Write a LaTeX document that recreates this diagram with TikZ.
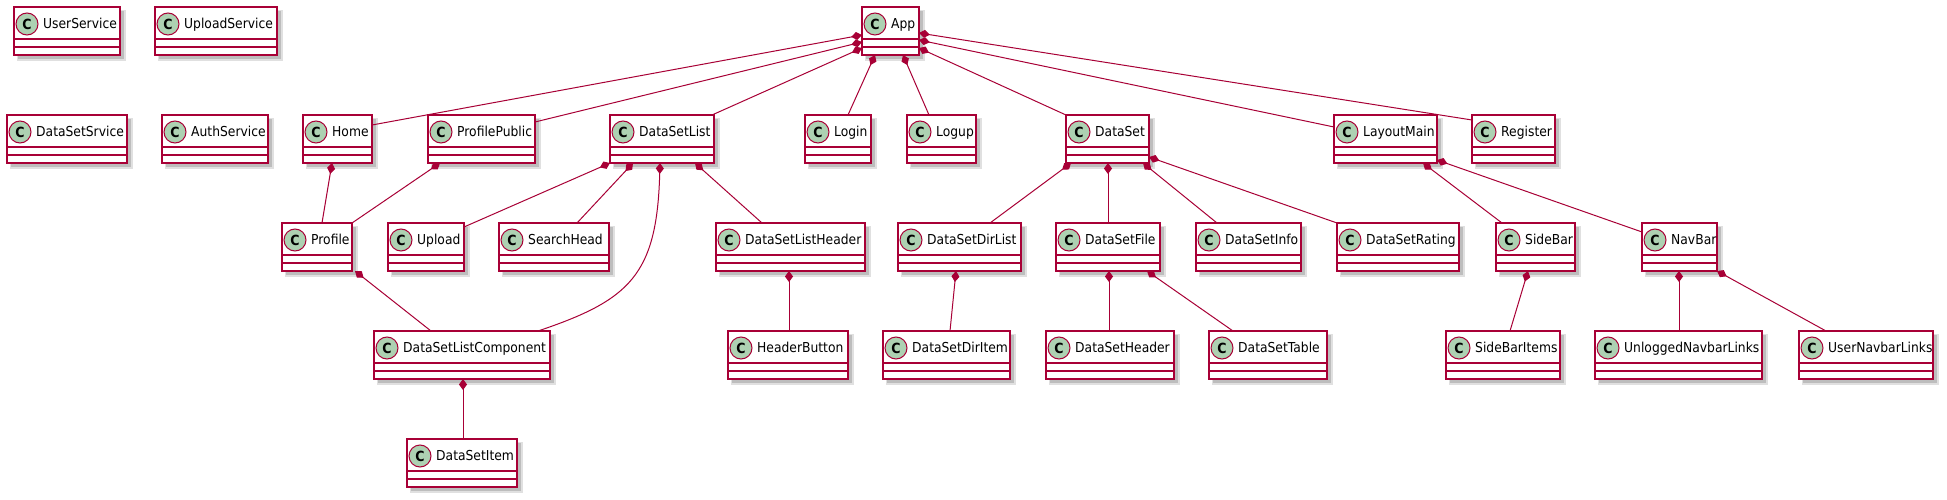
\documentclass[tikz,border=0pt]{standalone}
\usepackage{fontspec}
\setmainfont[FakeStretch=0.9]{DejaVu Sans}
\usetikzlibrary{arrows.meta}
\definecolor{pu}{HTML}{A80036}
\definecolor{cg}{HTML}{ADD1B2}
\tikzset{
  box/.style={draw=pu, line width=1.5pt, fill=white, rectangle, inner sep=0pt, outer sep=0pt},
  sep/.style={draw=pu, line width=1.5pt},
  comp/.style={draw=pu, line width=1pt, arrows={Diamond[length=11pt,width=8pt]-}},
  circ/.style={circle, draw=pu, line width=1pt, fill=cg, minimum size=22pt, inner sep=0pt, font=\fontsize{14}{14}\selectfont\bfseries},
  lbl/.style={anchor=base west, inner sep=0pt, font=\fontsize{13.7}{16}\selectfont}
}
\newcommand{\umlc}[5]{%
  \fill[black!12] (#2+3,#3+3) rectangle (#4+6,#3+54);
  \fill[black!26] (#2+4,#3+4) rectangle (#4+4,#3+52);
  \node[box, minimum width=#4-#2, minimum height=48, anchor=north west] (#1) at (#2,#3) {};
  \draw[sep] ([yshift=-32pt]#1.north west) -- ([yshift=-32pt]#1.north east);
  \draw[sep] ([yshift=-40pt]#1.north west) -- ([yshift=-40pt]#1.north east);
  \node[circ] (#1-c) at ([xshift=13pt,yshift=-17pt]#1.north west) {C};
  \node[lbl] (#1-t) at ([xshift=29pt,yshift=-21.5pt]#1.north west) {#5};
}
\begin{document}
\begin{tikzpicture}[x=1pt,y=-1pt]
\useasboundingbox[fill=white] (0,0) rectangle (1947,500);
% row 1
\umlc{UserService}{14}{7}{120}{UserService}
\umlc{UploadService}{155}{7}{277}{UploadService}
\umlc{App}{862}{7}{919}{App}
% row 2
\umlc{DataSetSrvice}{7}{115}{127}{DataSetSrvice}
\umlc{AuthService}{162}{115}{268}{AuthService}
\umlc{Home}{303}{115}{372}{Home}
\umlc{ProfilePublic}{428}{115}{535}{ProfilePublic}
\umlc{DataSetList}{610}{115}{714}{DataSetList}
\umlc{Login}{805}{115}{871}{Login}
\umlc{Logup}{907}{115}{976}{Logup}
\umlc{DataSet}{1066}{115}{1149}{DataSet}
\umlc{LayoutMain}{1334}{115}{1437}{LayoutMain}
\umlc{Register}{1472}{115}{1555}{Register}
% row 3
\umlc{Profile}{282}{223}{352}{Profile}
\umlc{Upload}{388}{223}{464}{Upload}
\umlc{SearchHead}{499}{223}{609}{SearchHead}
\umlc{DataSetListHeader}{716}{223}{865}{DataSetListHeader}
\umlc{DataSetDirList}{898}{223}{1021}{DataSetDirList}
\umlc{DataSetFile}{1056}{223}{1160}{DataSetFile}
\umlc{DataSetInfo}{1196}{223}{1301}{DataSetInfo}
\umlc{DataSetRating}{1337}{223}{1459}{DataSetRating}
\umlc{SideBar}{1496}{223}{1575}{SideBar}
\umlc{NavBar}{1642}{223}{1717}{NavBar}
% row 4
\umlc{DataSetListComponent}{374}{331}{550}{DataSetListComponent}
\umlc{HeaderButton}{728}{331}{848}{HeaderButton}
\umlc{DataSetDirItem}{883}{331}{1010}{DataSetDirItem}
\umlc{DataSetHeader}{1046}{331}{1174}{DataSetHeader}
\umlc{DataSetTable}{1209}{331}{1327}{DataSetTable}
\umlc{SideBarItems}{1446}{331}{1560}{SideBarItems}
\umlc{UnloggedNavbarLinks}{1595}{331}{1762}{UnloggedNavbarLinks}
\umlc{UserNavbarLinks}{1799}{331}{1933}{UserNavbarLinks}
% row 5
\umlc{DataSetItem}{407}{439}{517}{DataSetItem}
% connectors
\draw[comp] (App.west |- 0,35) -- (Home.east |- 0,125);
\draw[comp] (App.west |- 0,42) -- (ProfilePublic.east |- 0,122);
\draw[comp] (App.west |- 0,48) -- (DataSetList.north -| 712,0);
\draw[comp] (App.south -| 875,0) -- (Login.north -| 848,0);
\draw[comp] (App.south -| 903,0) -- (Logup.north -| 929,0);
\draw[comp] (App.east |- 0,48) -- (DataSet.north west);
\draw[comp] (App.east |- 0,40) -- (LayoutMain.west |- 0,127);
\draw[comp] (App.east |- 0,33) -- (Register.west |- 0,120);
\draw[comp] (Home.south -| 332,0) -- (Profile.north -| 322,0);
\draw[comp] (ProfilePublic.south -| 440,0) -- (Profile.north east);
\draw[comp] (Profile.south -| 355,0) -- (DataSetListComponent.north -| 431,0);
\draw[comp] (DataSetList.south west) -- (Upload.east |- 0,227);
\draw[comp] (DataSetList.south -| 633,0) -- (SearchHead.north -| 577,0);
\draw[comp] (DataSetList.south -| 660,0) .. controls (657,275) and (630,300) .. (DataSetListComponent.north -| 538,0);
\draw[comp] (DataSetList.south -| 695,0) -- (DataSetListHeader.north -| 762,0);
\draw[comp] (DataSetListHeader.south -| 789,0) -- (HeaderButton.north -| 789,0);
\draw[comp] (DataSetListComponent.south -| 463,0) -- (DataSetItem.north -| 463,0);
\draw[comp] (DataSet.south -| 1071,0) -- (DataSetDirList.north -| 990,0);
\draw[comp] (DataSet.south -| 1108,0) -- (DataSetFile.north -| 1108,0);
\draw[comp] (DataSet.south -| 1143,0) -- (DataSetInfo.north -| 1217,0);
\draw[comp] (DataSet.east |- 0,157) -- (DataSetRating.north west);
\draw[comp] (DataSetDirList.south -| 956,0) -- (DataSetDirItem.north -| 950,0);
\draw[comp] (DataSetFile.south -| 1109,0) -- (DataSetHeader.north -| 1109,0);
\draw[comp] (DataSetFile.south -| 1147,0) -- (DataSetTable.north -| 1233,0);
\draw[comp] (LayoutMain.south -| 1423,0) -- (SideBar.north -| 1502,0);
\draw[comp] (LayoutMain.east |- 0,160) -- (NavBar.west |- 0,232);
\draw[comp] (SideBar.south -| 1528,0) -- (SideBarItems.north -| 1510,0);
\draw[comp] (NavBar.south -| 1679,0) -- (UnloggedNavbarLinks.north -| 1679,0);
\draw[comp] (NavBar.south east) -- (UserNavbarLinks.north -| 1826,0);
\end{tikzpicture}
\end{document}
